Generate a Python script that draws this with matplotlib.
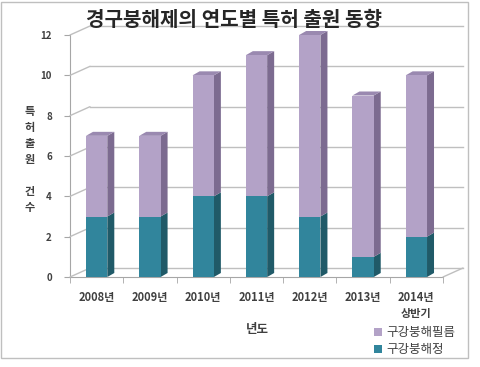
import matplotlib.pyplot as plt
import matplotlib.transforms as mtransforms
from matplotlib.patches import Rectangle, Polygon

plt.rcParams['font.family'] = ['Noto Sans CJK KR', 'DejaVu Sans']

# data
years = ['2008년', '2009년', '2010년', '2011년', '2012년', '2013년', '2014년\n상반기']
tablet = [3, 3, 4, 4, 3, 1, 2]        # 구강붕해정
film = [4, 4, 6, 7, 9, 8, 8]          # 구강붕해필름
yticks = [0, 2, 4, 6, 8, 10, 12]

teal = '#31859C'
teal_side = '#205A68'
purple = '#B3A2C7'
purple_side = '#7C6B90'
purple_top = '#9A89B0'
grid_c = '#BFBFBF'

fig = plt.figure(figsize=(4.8, 3.67), dpi=100)
ax = fig.add_axes([70/480, 90/367, 373/480, 242/367])
ax.set_xlim(-0.5, 6.5)
ax.set_ylim(0, 12)

# outer frame
fig.patches.append(Rectangle((1/480, 9/367), 467/480, 356/367, transform=fig.transFigure,
                             fill=False, edgecolor='#BFBFBF', lw=1))

# back wall grid lines (3d look)
back = mtransforms.offset_copy(ax.transData, fig=fig, x=20, y=9, units='dots')
for v in yticks:
    ax.plot([-0.5, 6.5], [v, v], color=grid_c, lw=1, transform=back, clip_on=False, zorder=1)
    ax.annotate('', xy=(-0.5, v), xycoords=back, xytext=(-0.5, v), textcoords='data',
                arrowprops=dict(arrowstyle='-', color=grid_c, lw=1, shrinkA=0, shrinkB=0))
ax.annotate('', xy=(6.5, 0), xycoords=back, xytext=(6.5, 0), textcoords='data',
            arrowprops=dict(arrowstyle='-', color=grid_c, lw=1, shrinkA=0, shrinkB=0))

# bars with side and top faces
w = 0.4
dx = 7 / (373 / 7)
dy = 4 / (242 / 12)
x = list(range(len(years)))
totals = [a + b for a, b in zip(tablet, film)]
for i in x:
    r = i + w / 2
    ax.add_patch(Polygon([(r, 0), (r + dx, dy), (r + dx, tablet[i] + dy), (r, tablet[i])],
                         closed=True, facecolor=teal_side, edgecolor='none', zorder=3))
    ax.add_patch(Polygon([(r, tablet[i]), (r + dx, tablet[i] + dy), (r + dx, totals[i] + dy), (r, totals[i])],
                         closed=True, facecolor=purple_side, edgecolor='none', zorder=3, clip_on=False))
    ax.add_patch(Polygon([(i - w / 2, totals[i]), (r, totals[i]), (r + dx, totals[i] + dy),
                          (i - w / 2 + dx, totals[i] + dy)],
                         closed=True, facecolor=purple_top, edgecolor='none', zorder=3, clip_on=False))
ax.bar(x, tablet, width=w, color=teal, zorder=4, label='구강붕해정')
ax.bar(x, film, width=w, bottom=tablet, color=purple, zorder=4, label='구강붕해필름', clip_on=False)

# axes styling
for s in ['top', 'right']:
    ax.spines[s].set_visible(False)
ax.spines['left'].set_color('#A6A6A6')
ax.spines['bottom'].set_color('#A6A6A6')
ax.set_yticks(yticks)
ax.set_yticklabels([str(v) for v in yticks], fontsize=7, fontweight='bold', color='#404040')
ax.tick_params(axis='y', length=4, color='#A6A6A6', pad=9)
ax.set_xticks(x)
ax.set_xticklabels(years, fontsize=8, fontweight='bold', color='#404040', linespacing=1.3)
ax.tick_params(axis='x', which='major', length=0, pad=10)
ax.set_xticks([k - 0.5 for k in range(len(years) + 1)], minor=True)
ax.tick_params(axis='x', which='minor', length=4, color='#A6A6A6')

fig.text(234/480, 1 - 20/367, '경구붕해제의 연도별 특허 출원 동향', ha='center', va='center',
         fontsize=14.5, fontweight='bold', color='#262626')
fig.text(30/480, 1 - 160/367, '특\n허\n출\n원\n\n건\n수', ha='center', va='center',
         fontsize=8, fontweight='bold', color='#404040', linespacing=1.3)
fig.text(257/480, 1 - 330/367, '년도', ha='center', va='center',
         fontsize=9, fontweight='bold', color='#404040')

h, l = ax.get_legend_handles_labels()
fig.legend(h[::-1], l[::-1], loc='upper left', bbox_to_anchor=(368/480, 1 - 320/367),
           frameon=False, fontsize=9, handlelength=0.6, handleheight=0.6, handletextpad=0.4,
           labelspacing=0.3, borderpad=0, labelcolor='#404040')

fig.savefig('out.png', dpi=100)
